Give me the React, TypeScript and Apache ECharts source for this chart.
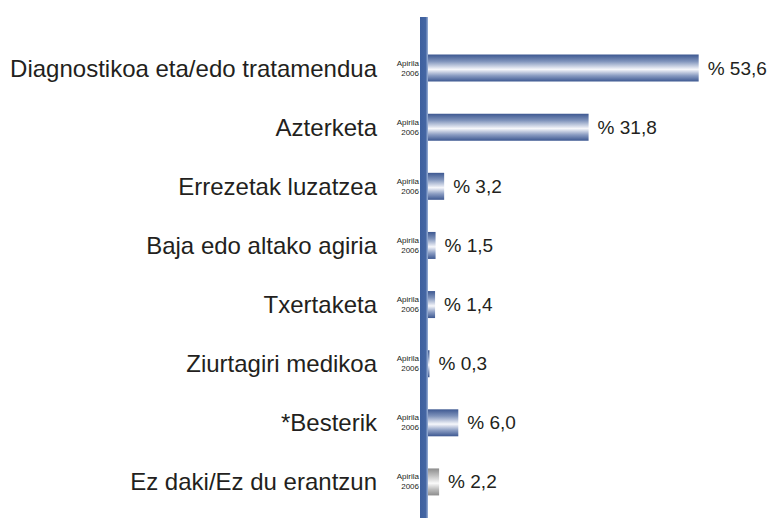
import React, { useEffect, useRef } from "react";
import * as echarts from "echarts";

const categories = [
  "Diagnostikoa eta/edo tratamendua",
  "Azterketa",
  "Errezetak luzatzea",
  "Baja edo altako agiria",
  "Txertaketa",
  "Ziurtagiri medikoa",
  "*Besterik",
  "Ez daki/Ez du erantzun",
];
const values = [53.6, 31.8, 3.2, 1.5, 1.4, 0.3, 6.0, 2.2];
const periodMonth = "Apirila";
const periodYear = "2006";
const greyIndex = 7;

const blueGrad = new echarts.graphic.LinearGradient(0, 0, 0, 1, [
  { offset: 0, color: "#3d5891" },
  { offset: 0.25, color: "#7f93bb" },
  { offset: 0.55, color: "#f6f7fb" },
  { offset: 0.78, color: "#8a9cc2" },
  { offset: 1, color: "#3d5891" },
]);
const greyGrad = new echarts.graphic.LinearGradient(0, 0, 0, 1, [
  { offset: 0, color: "#8c8c8c" },
  { offset: 0.25, color: "#bdbdbd" },
  { offset: 0.55, color: "#fafafa" },
  { offset: 0.78, color: "#bcbcbc" },
  { offset: 1, color: "#8c8c8c" },
]);

export default function App() {
  const ref = useRef<HTMLDivElement>(null);
  useEffect(() => {
    if (!ref.current) return;
    const chart = echarts.init(ref.current, undefined, { renderer: "svg" });
    const font = "'Liberation Sans', Arial, Helvetica, sans-serif";
    const smallAxis = (text: string, va: string, padding: number[]) => ({
      type: "category",
      data: categories,
      inverse: true,
      position: "left",
      offset: 0,
      axisLine: { show: false },
      axisTick: { show: false },
      splitLine: { show: false },
      axisLabel: {
        margin: 9,
        fontSize: 8,
        lineHeight: 8,
        fontFamily: font,
        color: "#231f20",
        align: "right",
        verticalAlign: va,
        padding,
        formatter: () => text,
      },
    });
    chart.setOption({
      animation: false,
      backgroundColor: "#ffffff",
      grid: { left: 428, right: 45, top: 38.5, bottom: 6.5 },
      xAxis: { type: "value", min: 0, max: 60, show: false },
      yAxis: [
        {
          type: "category",
          data: categories,
          inverse: true,
          axisLine: { show: false },
          axisTick: { show: false },
          splitLine: { show: false },
          axisLabel: {
            margin: 51,
            fontSize: 24,
            fontFamily: font,
            color: "#231f20",
          },
        },
        smallAxis(periodMonth, "bottom", [0, 0, 1, 0]),
        smallAxis(periodYear, "top", [1, 0, 0, 0]),
      ],
      graphic: [
        {
          type: "rect",
          x: 420,
          y: 17,
          shape: { width: 8, height: 501 },
          style: {
            fill: new echarts.graphic.LinearGradient(0, 0, 1, 0, [
              { offset: 0, color: "#3e609e" },
              { offset: 0.7, color: "#4466a3" },
              { offset: 1, color: "#9fb4d8" },
            ]),
          },
          z: 10,
        },
      ],
      series: [
        {
          type: "bar",
          yAxisIndex: 0,
          barWidth: 27,
          data: values.map((v, i) => ({
            value: v,
            itemStyle: { color: i === greyIndex ? greyGrad : blueGrad },
          })),
          label: {
            show: true,
            position: "right",
            distance: 9,
            fontSize: 19,
            fontFamily: font,
            color: "#231f20",
            formatter: (p: any) => "% " + Number(p.value).toFixed(1).replace(".", ","),
          },
        },
      ],
    });
    return () => chart.dispose();
  }, []);
  return <div ref={ref} style={{ width: 776, height: 518, position: "absolute", left: 0, top: 0 }} />;
}
